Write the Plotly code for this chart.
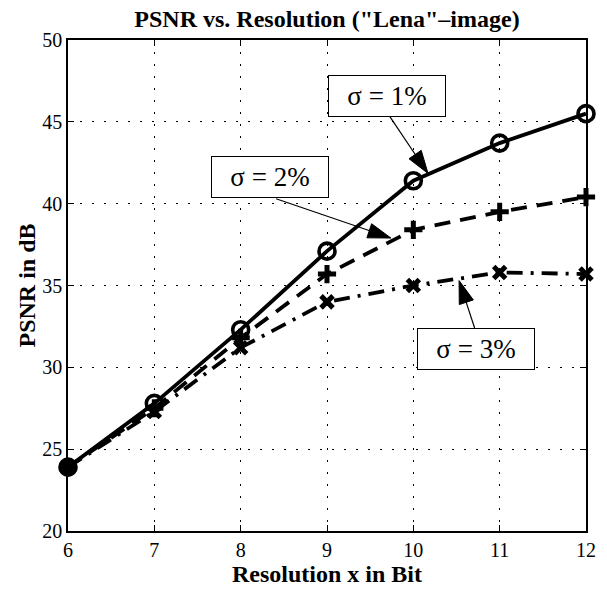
import plotly.graph_objects as go

resolution_bits = [6, 7, 8, 9, 10, 11, 12]
psnr_sigma1 = [23.9, 27.8, 32.3, 37.1, 41.4, 43.7, 45.5]
psnr_sigma2 = [23.9, 27.5, 31.8, 35.7, 38.4, 39.5, 40.4]
psnr_sigma3 = [23.9, 27.3, 31.2, 34.0, 35.0, 35.8, 35.7]

x_ticks = [6, 7, 8, 9, 10, 11, 12]
y_ticks = [20, 25, 30, 35, 40, 45, 50]

# annotation labels: (text, box centre x, box centre y, arrow tail x, tail y, tip x, tip y)
labels = [
    ("σ = 1%", 9.69, 46.6, 9.73, 45.3, 10.17, 41.85),
    ("σ = 2%", 8.34, 41.6, 8.41, 40.3, 9.74, 37.9),
    ("σ = 3%", 10.73, 31.1, 10.71, 32.4, 10.53, 35.3),
]

FONT = "Liberation Serif"

fig = go.Figure()

fig.add_trace(go.Scatter(
    x=resolution_bits, y=psnr_sigma1, mode="lines+markers", cliponaxis=False,
    line=dict(color="black", width=3.8),
    marker=dict(symbol="circle-open", size=16, color="black", line=dict(width=3.6, color="black")),
    showlegend=False))
fig.add_trace(go.Scatter(
    x=resolution_bits, y=psnr_sigma2, mode="lines+markers", cliponaxis=False,
    line=dict(color="black", width=3.8, dash="16px,10px"),
    marker=dict(symbol="cross-thin-open", size=13, color="black", line=dict(width=5, color="black")),
    showlegend=False))
fig.add_trace(go.Scatter(
    x=resolution_bits, y=psnr_sigma3, mode="lines+markers", cliponaxis=False,
    line=dict(color="black", width=3.8, dash="16px,8px,3px,8px"),
    marker=dict(symbol="x-thin-open", size=12, color="black", line=dict(width=5, color="black")),
    showlegend=False))

for text, bx, by, tx, ty, hx, hy in labels:
    fig.add_trace(go.Scatter(
        x=[tx, hx], y=[ty, hy], mode="lines+markers", cliponaxis=False,
        line=dict(color="black", width=1.2),
        marker=dict(symbol="arrow", size=[0, 24], angleref="previous", color="black",
                    opacity=1, line=dict(color="black", width=1)),
        showlegend=False, hoverinfo="skip"))
    fig.add_annotation(
        x=bx, y=by, xref="x", yref="y", text=text, showarrow=False,
        font=dict(family=FONT, size=27, color="black"),
        bgcolor="white", bordercolor="black", borderwidth=1,
        width=114, height=38, borderpad=1)

axis_common = dict(
    showline=True, linecolor="black", linewidth=1.5, mirror="ticks",
    ticks="inside", ticklen=6, tickcolor="black", tickwidth=1,
    showgrid=True, gridcolor="black", gridwidth=1, griddash="2px,10px",
    zeroline=False,
    tickfont=dict(family=FONT, size=20, color="black"),
)

fig.update_xaxes(range=[6, 12], tickvals=x_ticks, ticktext=[str(v) for v in x_ticks],
                 title=dict(text="<b>Resolution x in Bit</b>", font=dict(family=FONT, size=24, color="black"), standoff=2),
                 **axis_common)
fig.update_yaxes(range=[20, 50], tickvals=y_ticks, ticktext=[str(v) for v in y_ticks],
                 title=dict(text="<b>PSNR in dB</b>", font=dict(family=FONT, size=24, color="black"), standoff=0),
                 **axis_common)

fig.update_layout(
    width=607, height=594,
    margin=dict(l=68, r=11, t=40, b=63),
    paper_bgcolor="white", plot_bgcolor="white",
    hovermode=False,
    title=dict(text="<b>PSNR vs. Resolution (\"Lena\"–image)</b>", x=0.5, xref="paper",
               y=1 - 19 / 594, yanchor="middle",
               font=dict(family=FONT, size=24, color="black")),
)

fig.write_html("out.html", config={"displayModeBar": False},
               post_script="document.body.style.margin='0px';")
